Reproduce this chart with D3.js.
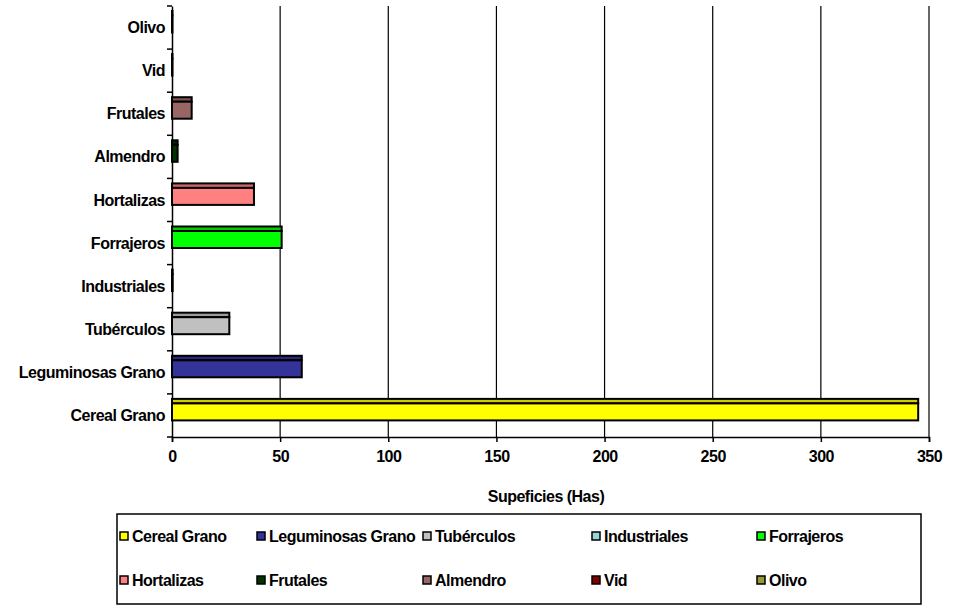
<!DOCTYPE html>
<html><head><meta charset="utf-8">
<script src="https://cdn.jsdelivr.net/npm/d3@7"></script>
<style>body{margin:0;background:#fff}svg text{font-family:"Liberation Sans",Arial,sans-serif;font-weight:bold;fill:#000}</style>
</head><body><svg id="c" width="971" height="605"></svg>
<script>
// Data (bottom to top)
const categories = ["Cereal Grano","Leguminosas Grano ","Tubérculos","Industriales","Forrajeros","Hortalizas","Almendro","Frutales","Vid","Olivo"];
const values = [345, 60, 26.5, 0.3, 50.7, 37.9, 2.6, 9.1, 0.2, 0.2];
const barColors = ["#FFFF00","#333399","#C0C0C0","#99D6D6","#00FF00","#FF8080","#003300","#996666","#800000","#999933"];
const legendLabels = ["Cereal Grano","Leguminosas Grano","Tubérculos","Industriales","Forrajeros","Hortalizas","Frutales","Almendro","Vid","Olivo"];
const xTicks = [0,50,100,150,200,250,300,350];
const xTitle = "Supeficies (Has)";

const FS = "16px", LS = "-0.5px";
const svg = d3.select("#c");
const L = 172, R = 929, T = 6, B = 437;
const x = d3.scaleLinear().domain([0,350]).range([L,R]);
const y = d3.scaleBand().domain(categories.slice().reverse()).range([T,B]);
const bw = y.bandwidth();

// gridlines
svg.append("g").selectAll("line").data(xTicks.slice(1)).join("line")
  .attr("x1",d=>x(d)).attr("x2",d=>x(d)).attr("y1",T).attr("y2",B)
  .attr("stroke","#000").attr("stroke-width",1.2);

// x axis
const xa = svg.append("g").attr("transform",`translate(0,${B})`)
  .call(d3.axisBottom(x).tickValues(xTicks).tickSize(5).tickPadding(9));
xa.select(".domain").attr("stroke","#000").attr("stroke-width",1.5);
xa.selectAll(".tick line").attr("stroke","#000").attr("stroke-width",1.5);
xa.selectAll("text").style("font-size",FS).style("letter-spacing",LS).attr("fill","#000").attr("font-family","Liberation Sans").attr("font-weight","bold");

// y axis
const ya = svg.append("g").attr("transform",`translate(${L},0)`)
  .call(d3.axisLeft(y).tickSize(0).tickPadding(7));
ya.select(".domain").attr("stroke","#000").attr("stroke-width",1.5);
ya.selectAll("text").style("font-size",FS).style("letter-spacing",LS).attr("fill","#000").attr("font-family","Liberation Sans").attr("font-weight","bold")
  .attr("dy","0.35em");
// band boundary ticks
svg.append("g").selectAll("line").data(d3.range(categories.length+1)).join("line")
  .attr("x1",L-5).attr("x2",L).attr("y1",i=>T+i*bw).attr("y2",i=>T+i*bw)
  .attr("stroke","#000").attr("stroke-width",1.5);

// bars with top strip
const g = svg.append("g");
categories.forEach((c,i)=>{
  const y0 = y(c);
  const col = d3.color(barColors[i]);
  const w = x(values[i]) - x(0);
  g.append("rect").attr("x",x(0)).attr("y",y0+5).attr("width",w).attr("height",4.5)
    .attr("fill",col.darker(0.6)).attr("stroke","#000").attr("stroke-width",2);
  g.append("rect").attr("x",x(0)).attr("y",y0+9.5).attr("width",w).attr("height",17)
    .attr("fill",barColors[i]).attr("stroke","#000").attr("stroke-width",2);
});

// axis title
svg.append("text").attr("x",546).attr("y",502).attr("text-anchor","middle")
  .style("font-size",FS).style("letter-spacing",LS).text(xTitle);

// legend
svg.append("rect").attr("x",117).attr("y",514).attr("width",804).attr("height",90)
  .attr("fill","#fff").attr("stroke","#000").attr("stroke-width",1.5);
const colX = [120,257,423,592,757];
const rowY = [536,580];
legendLabels.forEach((lab,i)=>{
  const cx = colX[i%5], cy = rowY[Math.floor(i/5)];
  svg.append("rect").attr("x",cx).attr("y",cy-4).attr("width",8).attr("height",8)
    .attr("fill",barColors[i]).attr("stroke","#000").attr("stroke-width",1.5);
  svg.append("text").attr("x",cx+12).attr("y",cy).attr("dy","0.35em")
    .style("font-size",FS).style("letter-spacing",LS).text(lab);
});
</script></body></html>
